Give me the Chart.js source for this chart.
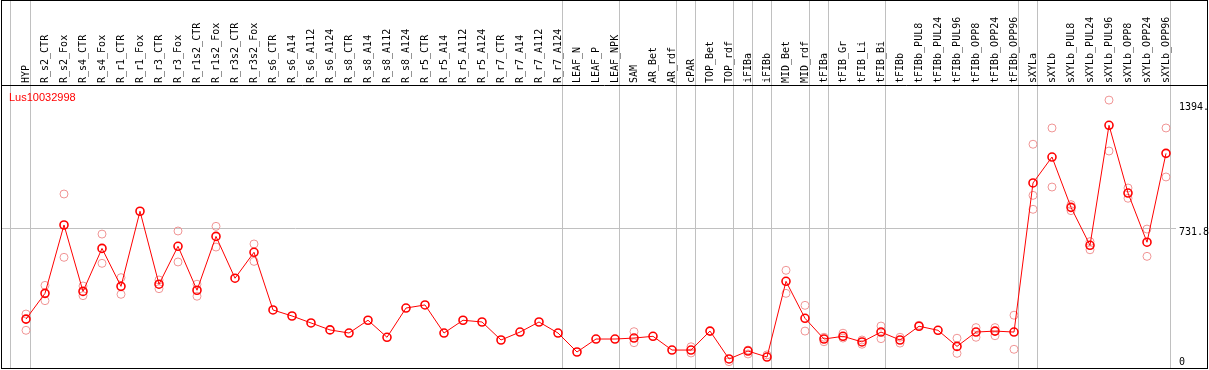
<!DOCTYPE html>
<html>
<head>
<meta charset="utf-8">
<script src="https://cdn.jsdelivr.net/npm/chart.js@4"></script>
<style>
  body { margin: 0; background: #fff; }
  canvas { display: block; }
</style>
</head>
<body>
<canvas id="chart1" width="1209" height="370"></canvas>
<script>
// data
const categories = ['HYP', 'R_s2_CTR', 'R_s2_Fox', 'R_s4_CTR', 'R_s4_Fox', 'R_r1_CTR', 'R_r1_Fox', 'R_r3_CTR', 'R_r3_Fox',
    'R_r1s2_CTR', 'R_r1s2_Fox', 'R_r3s2_CTR', 'R_r3s2_Fox', 'R_s6_CTR', 'R_s6_A14', 'R_s6_A112', 'R_s6_A124',
    'R_s8_CTR', 'R_s8_A14', 'R_s8_A112', 'R_s8_A124', 'R_r5_CTR', 'R_r5_A14', 'R_r5_A112', 'R_r5_A124',
    'R_r7_CTR', 'R_r7_A14', 'R_r7_A112', 'R_r7_A124', 'LEAF_N', 'LEAF_P', 'LEAF_NPK', 'SAM', 'AR_Bet', 'AR_rdf',
    'cPAR', 'TOP_Bet', 'TOP_rdf', 'iFIBa', 'iFIBb', 'MID_Bet', 'MID_rdf', 'tFIBa', 'tFIB_Gr', 'tFIB_Li', 'tFIB_Bi',
    'tFIBb', 'tFIBb_PUL8', 'tFIBb_PUL24', 'tFIBb_PUL96', 'tFIBb_OPP8', 'tFIBb_OPP24', 'tFIBb_OPP96',
    'sXYLa', 'sXYLb', 'sXYLb_PUL8', 'sXYLb_PUL24', 'sXYLb_PUL96', 'sXYLb_OPP8', 'sXYLb_OPP24', 'sXYLb_OPP96'];

const meanValues = [263, 396, 749, 406, 628, 432, 820, 443, 639, 412, 690, 474, 608,
    310, 279, 243, 207, 191, 257, 169, 320, 336, 191, 257, 248, 155, 196, 248, 191,
    93, 160, 160, 165, 174, 103, 103, 201, 57, 98, 67, 458, 267,
    160, 174, 145, 196, 155, 226, 205, 122, 196, 201, 196,
    966, 1100, 840, 644, 1264, 914, 660, 1119];

// replicate samples (null = hidden under the mean marker)
const repA = [289, 437, 909, 434, 702, 477, null, 465, 718, 443, 742, null, 651,
    null, null, null, null, null, null, null, null, null, null, null, null, null, null, null, null,
    null, null, null, 198, null, null, 120, null, 43, 103, 78, 515, 334,
    169, 190, 155, 227, 169, 231, null, 164, 219, 219, 283,
    1166, 1250, 854, 663, 1394, 940, 728, 1250];

const repB = [205, 358, 582, 384, 551, 391, null, 420, 558, 381, 635, null, 561,
    null, null, null, null, null, null, null, null, null, null, null, null, null, null, null, null,
    null, null, null, 141, null, null, 88, null, null, 83, null, 396, 201,
    146, 165, 133, 162, 139, null, null, 86, 169, 177, 107,
    902, 945, 823, 621, 1131, 887, 587, 997];

const repC = [];
repC[53] = 830;

const geneName = 'Lus10032998';
const yTickValues = [1394, 731.8, 0];
const yTickLabels = ['1394.', '731.8', '0'];
const groupEnds = [0, 28, 31, 34, 35, 37, 38, 39, 41, 42, 45, 52, 53, 60];

function toPoints(arr) {
    const pts = [];
    categories.forEach((c, i) => {
        if (arr[i] !== undefined && arr[i] !== null) pts.push({ x: i, y: arr[i] });
    });
    return pts;
}

const gridColor = '#c0c0c0';

const framePlugin = {
    id: 'frame',
    beforeDatasetsDraw(chart) {
        const c = chart.ctx;
        const x = chart.scales.x;
        const y = chart.scales.y;
        c.save();
        c.strokeStyle = gridColor;
        c.lineWidth = 1;
        const lines = [-0.79].concat(groupEnds.map(g => g + 0.25));
        lines.forEach(v => {
            const px = Math.floor(x.getPixelForValue(v)) + 0.5;
            c.beginPath();
            c.moveTo(px, 0);
            c.lineTo(px, 369);
            c.stroke();
        });
        const gy = Math.floor(y.getPixelForValue(731.8)) + 0.5;
        c.beginPath();
        c.moveTo(2, gy);
        c.lineTo(1176, gy);
        c.stroke();
        c.restore();
    },
    afterDraw(chart) {
        const c = chart.ctx;
        const x = chart.scales.x;
        const y = chart.scales.y;
        c.save();
        // category labels, rotated
        c.fillStyle = '#000';
        c.font = '10px "DejaVu Sans Mono"';
        c.textAlign = 'left';
        c.textBaseline = 'middle';
        categories.forEach((cat, i) => {
            c.save();
            c.translate(x.getPixelForValue(i) + 0.5, 83);
            c.rotate(-Math.PI / 2);
            c.fillText(cat, 0, 0);
            c.restore();
        });
        // right value labels
        const offs = [7.5, 4, -8];
        yTickValues.forEach((v, k) => {
            c.fillText(yTickLabels[k], 1179, y.getPixelForValue(v) + offs[k]);
        });
        // gene name
        c.fillStyle = '#ff0000';
        c.font = '11px "Liberation Sans"';
        c.fillText(geneName, 9, 98);
        // border
        c.strokeStyle = '#000';
        c.lineWidth = 1;
        c.strokeRect(1.5, 0.5, 1206, 368);
        c.beginPath();
        c.moveTo(1, 85.5);
        c.lineTo(1208, 85.5);
        c.stroke();
        c.restore();
    }
};

const repStyle = {
    showLine: false,
    pointRadius: 4,
    pointBorderWidth: 1,
    pointBorderColor: '#f09595',
    pointBackgroundColor: 'rgba(0,0,0,0)'
};

const ctx = document.getElementById('chart1');
const chart1 = new Chart(ctx, {
    type: 'line',
    data: {
        datasets: [{
            label: geneName,
            data: toPoints(meanValues),
            borderColor: '#ff0000',
            borderWidth: 1,
            tension: 0,
            pointRadius: 4,
            pointBorderWidth: 1.6,
            pointBorderColor: '#ff0000',
            pointBackgroundColor: 'rgba(0,0,0,0)'
        },
        Object.assign({ label: 'rep1', data: toPoints(repA) }, repStyle),
        Object.assign({ label: 'rep2', data: toPoints(repB) }, repStyle),
        Object.assign({ label: 'rep3', data: toPoints(repC) }, repStyle)]
    },
    options: {
        responsive: false,
        animation: false,
        devicePixelRatio: 1,
        layout: {
            autoPadding: false,
            padding: { left: 2, right: 2, top: 85, bottom: 0 }
        },
        scales: {
            x: { type: 'linear', min: -24 / 19, max: -24 / 19 + 1205 / 19, display: false },
            y: { min: 0, max: 1472, display: false }
        },
        plugins: {
            legend: { display: false },
            tooltip: { enabled: false }
        }
    },
    plugins: [framePlugin]
});
</script>
</body>
</html>
